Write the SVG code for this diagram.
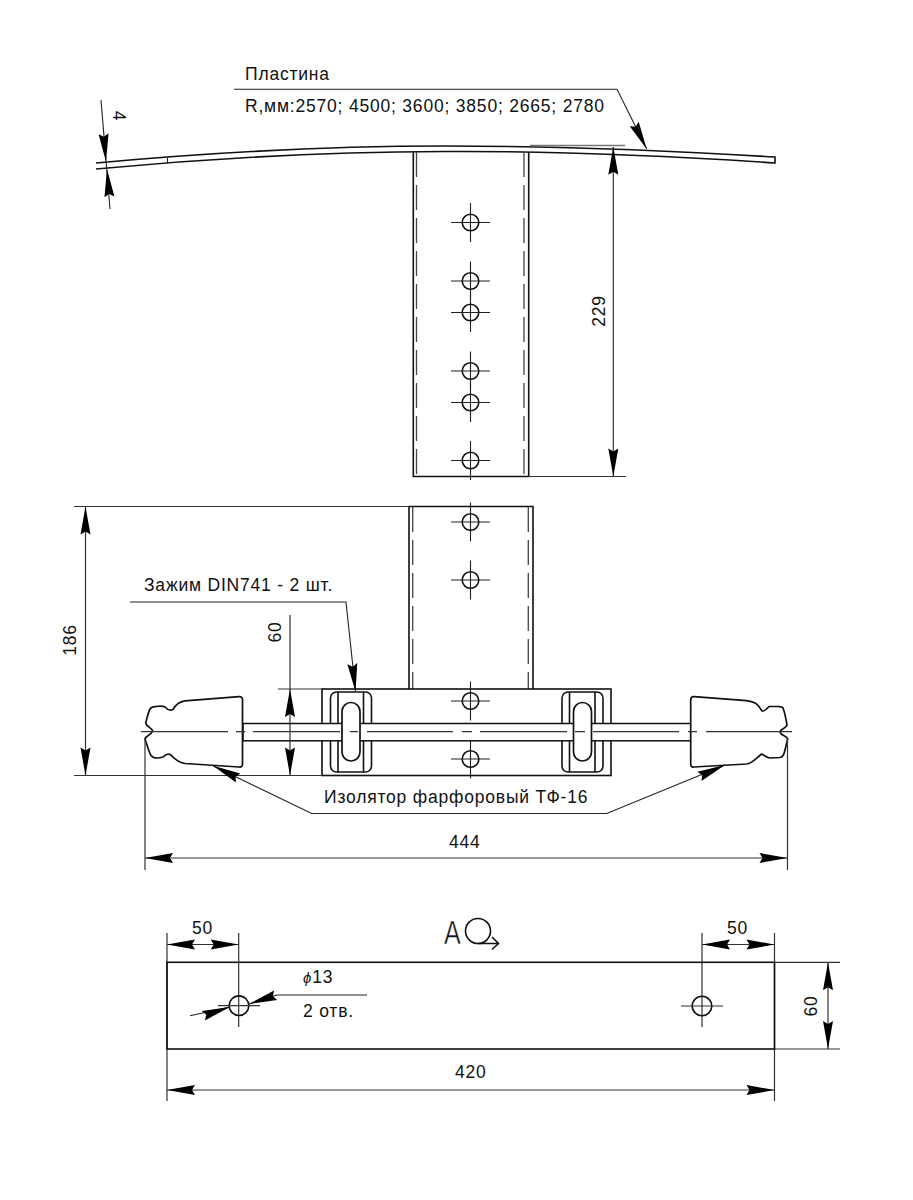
<svg xmlns="http://www.w3.org/2000/svg" width="913" height="1200" viewBox="0 0 913 1200">
<style>
.l{fill:none;stroke:#111;stroke-width:1.6}
.t{fill:none;stroke:#222;stroke-width:1.1}
.c{fill:none;stroke:#333;stroke-width:1.2}
.g{fill:none;stroke:#777;stroke-width:1.4}
.d{fill:none;stroke:#444;stroke-width:1.3;stroke-dasharray:25 8}
.f{fill:#fff;stroke:#111;stroke-width:1.7;stroke-linejoin:round}
.a{fill:#000;stroke:none}
text{font-family:"Liberation Sans",Arial,sans-serif;font-size:17.5px;letter-spacing:.8px;fill:#111}
</style>
<defs>
<g id="hole"><circle r="8.300" class="l"/><path class="t" d="M-19.500 0H19.500M0-19.500V19.500"/></g>
<path id="ar" class="a" d="M0 0L-28-5L-25 0L-28 5Z"/>
</defs>
<g id="plate">
<path class="l" d="M96 163C200 153.500 320 146 445 146C560 146 670 150.500 775 157V163C670 156 560 151 445 151.500C320 152 200 159 96 169"/>
<path class="t" d="M167.500 158V163.500"/>
<path class="g" d="M530 145.500H625"/>
</g>
<g id="bracket-top">
<path class="l" d="M413.300 152V476.500H528.700V152"/>
<path class="d" d="M416.500 152V476M524 152V476"/>
<use href="#hole" x="470.500" y="222.500"/><use href="#hole" x="470.500" y="281"/><use href="#hole" x="470.500" y="312.500"/><use href="#hole" x="470.500" y="371"/><use href="#hole" x="470.500" y="402.500"/><use href="#hole" x="470.500" y="460.500"/>
</g>
<g id="bracket-bottom">
<path class="l" d="M409 689V506.500H533V689"/>
<path class="d" d="M412.700 507V689M528.300 507V689"/>
<use href="#hole" x="470.500" y="522"/><use href="#hole" x="470.500" y="580"/>
</g>
<g id="base">
<rect class="l" x="322" y="689" width="289" height="86.500"/>
<use href="#hole" x="470.500" y="701"/><use href="#hole" x="470.500" y="759"/>
</g>
<g id="clamp-left">
<path class="l" d="M330.500 724V698a6 6 0 0 1 6-6H365.500a6 6 0 0 1 6 6V724M330.500 741V766a6 6 0 0 0 6 6H365.500a6 6 0 0 0 6-6V741M338 692V724M338 741V772M363.500 692V724M363.500 741V772"/>
</g>
<g id="clamp-right">
<path class="l" d="M562 724V698a6 6 0 0 1 6-6H597a6 6 0 0 1 6 6V724M562 741V766a6 6 0 0 0 6 6H597a6 6 0 0 0 6-6V741M569.500 692V724M569.500 741V772M595 692V724M595 741V772"/>
</g>
<g id="rod">
<rect x="243" y="723.500" width="448" height="17.300" fill="#fff" stroke="#111" stroke-width="1.500"/>
</g>
<g id="slot-left"><rect class="f" x="342" y="702.500" width="18" height="58.500" rx="9"/></g>
<g id="slot-right"><rect class="f" x="573.500" y="702.500" width="18" height="58.500" rx="9"/></g>
<g id="insulator-left">
<path class="f" d="M239 696.700Q242.500 696.500 242.500 700V764Q242.500 767.500 239 767L185 763.500C176 762 174 757 170 754.500C167 753 166 755 163 757C158 758.500 153 758 151 755.500C148 750 147 744 145 739C146 735 151 735.500 152.700 731C151 727 146.500 727 145.700 723C147 718 148 713 150 709C151.500 706.500 154 706.700 156 706.500C160 706 163 706 165 707C168 710.500 170 711 173 709.500C176 704 180 701.500 185 700.800Z"/>
</g>
<g id="insulator-right">
<path class="f" d="M694 696.700Q690.700 696.500 690.700 700V764Q690.700 767.500 694 767L746.700 764C753 763 757 757 761.700 754C764 755 767 758 770 758L780 757.500C783 757 784 755 785 750C786 746 787 742 787.700 739C786 735 781 736 780 732C781 728 786 729 787 725C786 719 785 713 783 708C782 706.500 780 706.700 778 706.500H769C765 711 763 711.500 761.700 710.700C759 706 757 704 755 703C751 701 749 701 746.700 700.700Z"/>
</g>
<g id="connectors">
<path class="c" d="M141 731.700H228M236 731.700H245M253 731.700H340M350 731.700H358M367 731.700H453M462 731.700H472M480 731.700H567M575 731.700H585M593 731.700H679M688 731.700H697M706 731.700H792"/>
<path class="t" d="M234 89.300H617L646.700 149"/><use href="#ar" transform="translate(646.700 149) rotate(63.500)"/>
<path class="t" d="M101 100L110 209"/><use href="#ar" transform="translate(106 161.700) rotate(85)"/><use href="#ar" transform="translate(107 169) rotate(-95)"/>
<path class="c" d="M528 476.500H626M613.300 147V476.500"/><use href="#ar" transform="translate(613.300 146.700) rotate(-90)"/><use href="#ar" transform="translate(613.300 476.500) rotate(90)"/>
<path class="c" d="M74 506.500H409M74 775.500H322M85.500 506.500V775.500"/><use href="#ar" transform="translate(85.500 506.500) rotate(-90)"/><use href="#ar" transform="translate(85.500 775.500) rotate(90)"/>
<path class="c" d="M278 689H322M290 615V775"/><use href="#ar" transform="translate(290 689) rotate(-90)"/><use href="#ar" transform="translate(290 775.500) rotate(90)"/>
<path class="t" d="M130 602H346L355.500 691"/><use href="#ar" transform="translate(355.500 691.500) rotate(83.500)"/>
<path class="t" d="M213 765.700L311.700 813.500H606.700L725 765"/><use href="#ar" transform="translate(213 765.700) rotate(206)"/><use href="#ar" transform="translate(725 765) rotate(-24)"/>
<path class="c" d="M145 739V870M787.500 739V870M145 858H787.500"/><use href="#ar" transform="translate(145 858) rotate(180)"/><use href="#ar" transform="translate(787.500 858)"/>
<path class="c" d="M167 933V1101M238.700 933V1027M167 944.500H238.700"/><use href="#ar" transform="translate(167 944.500) rotate(180)"/><use href="#ar" transform="translate(238.700 944.500)"/>
<path class="c" d="M774.500 933V1101M702 933V1027M702 944.500H774.500"/><use href="#ar" transform="translate(702 944.500) rotate(180)"/><use href="#ar" transform="translate(774.500 944.500)"/>
<path class="c" d="M167 1090H774.500"/><use href="#ar" transform="translate(167 1090) rotate(180)"/><use href="#ar" transform="translate(774.500 1090)"/>
<path class="c" d="M775 962.300H840M775 1049H840M828 962.300V1049"/><use href="#ar" transform="translate(828 962.300) rotate(-90)"/><use href="#ar" transform="translate(828 1049) rotate(90)"/>
<path class="t" d="M190 1015.700L230 1007M249 1004L277 995Q285 995 293 995H367"/><use href="#ar" transform="translate(230 1007) rotate(-18)"/><use href="#ar" transform="translate(249 1004) rotate(162)"/>
</g>
<g id="bar">
<rect class="l" x="167" y="962.300" width="607.500" height="86.700"/>
<circle class="l" cx="239" cy="1005.700" r="9.800"/><path class="c" d="M218 1005.700H260"/>
<circle class="l" cx="702" cy="1006" r="9.800"/><path class="c" d="M681 1006H723"/>
</g>
<g id="view-mark">
<circle class="l" cx="478" cy="931" r="12.500"/>
<path class="l" d="M478 943.500H498M492 937L498.500 943.500L492 949.500"/>
</g>
<g id="labels">
<text x="245" y="80">Пластина</text>
<text x="245" y="111.500">R,мм:2570; 4500; 3600; 3850; 2665; 2780</text>
<text transform="translate(113 116) rotate(90)" text-anchor="middle">4</text>
<text transform="translate(605 311) rotate(-90)" text-anchor="middle">229</text>
<text transform="translate(76 640) rotate(-90)" text-anchor="middle">186</text>
<text transform="translate(281 632) rotate(-90)" text-anchor="middle">60</text>
<text x="144" y="591">Зажим DIN741 - 2 шт.</text>
<text x="324" y="803">Изолятор фарфоровый ТФ-16</text>
<text x="449" y="848">444</text>
<text x="192" y="934">50</text>
<text x="727" y="934">50</text>
<text transform="translate(444 943.500) scale(.76 1)" style="font-size:33px;letter-spacing:0;stroke:#fff;stroke-width:.5">А</text>
<text x="303" y="983"><tspan style="font-size:15px;font-style:italic">ϕ</tspan>13</text>
<text x="303" y="1017">2 отв.</text>
<text transform="translate(817 1006) rotate(-90)" text-anchor="middle">60</text>
<text x="455" y="1078">420</text>
</g>
</svg>
